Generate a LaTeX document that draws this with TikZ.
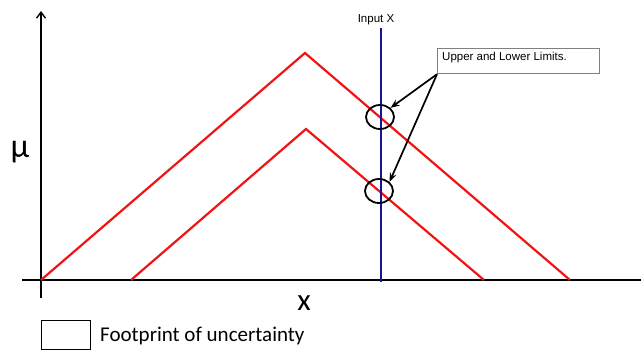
\documentclass[tikz,border=0pt]{standalone}
\usepackage{fontspec}
\setmainfont{Carlito}
\newfontfamily\arialfont{Liberation Sans}
\usetikzlibrary{arrows.meta,shapes.geometric}
\definecolor{fouRed}{RGB}{240,20,20}
\definecolor{fouBlue}{RGB}{20,20,150}
\tikzset{
  axisline/.style={line width=2.3pt,black},
  memb/.style={line width=2.2pt,fouRed,line join=miter},
  limit/.style={ellipse,draw,line width=1.8pt,minimum width=28pt,minimum height=24pt,inner sep=0pt},
  callout/.style={-{Stealth[length=9pt,width=7pt]},line width=1.7pt},
  smalltext/.style={font=\arialfont\fontsize{11.5}{13}\selectfont}
}
\begin{document}
\begin{tikzpicture}[x=1pt,y=-1pt]
\useasboundingbox (0,0) rectangle (641,349);
% axes
\coordinate (ybot) at (41,298);
\coordinate (ytop) at (41,11);
\coordinate (xl) at (22,280);
\coordinate (xr) at (641,280);
\draw[axisline,-{Straight Barb[length=6pt,width=9pt,line width=1.4pt]}] (ybot) -- (ytop);
\draw[axisline,line width=2.7pt] (xl) -- (xr);
% membership functions
\coordinate (u0) at (41,280);
\coordinate (u1) at (305,53);
\coordinate (u2) at (570,280);
\coordinate (l0) at (131,280);
\coordinate (l1) at (306,129);
\coordinate (l2) at (484,280);
\draw[memb] (u0) -- (u1) -- (u2);
\draw[memb] (l0) -- (l1) -- (l2);
% input line
\coordinate (in0) at (381,282);
\coordinate (in1) at (381,28);
\draw[line width=2.7pt,fouBlue] (in0) -- (in1);
\node[smalltext,anchor=base] (inlab) at (376,22) {Input X};
% circles
\node[limit] (c1) at (380,117) {};
\node[limit] (c2) at (379,191) {};
% callout box
\node[draw=gray,line width=1.2pt,fill=white,minimum width=162pt,minimum height=25pt,anchor=north west,inner sep=0pt] (box) at (437,48) {};
\node[smalltext,anchor=north west,inner sep=0pt] (boxtxt) at (442,52) {Upper and Lower Limits.};
\draw[callout] (box.south west) -- (c1.north east);
\draw[callout] (box.south west) -- (c2.north east);
% labels
\node[font=\fontsize{34}{36}\selectfont,anchor=base] (mu) at (20,157) {μ};
\node[font=\fontsize{31}{33}\selectfont,anchor=base] (xlab) at (304,310) {x};
% legend
\node[draw,line width=1.2pt,minimum width=49pt,minimum height=29pt,anchor=north west,inner sep=0pt] (leg) at (41,320) {};
\node[font=\fontsize{21}{23}\selectfont,anchor=west,inner sep=0pt] (legtxt) at (100,336) {Footprint of uncertainty};
\end{tikzpicture}
\end{document}
